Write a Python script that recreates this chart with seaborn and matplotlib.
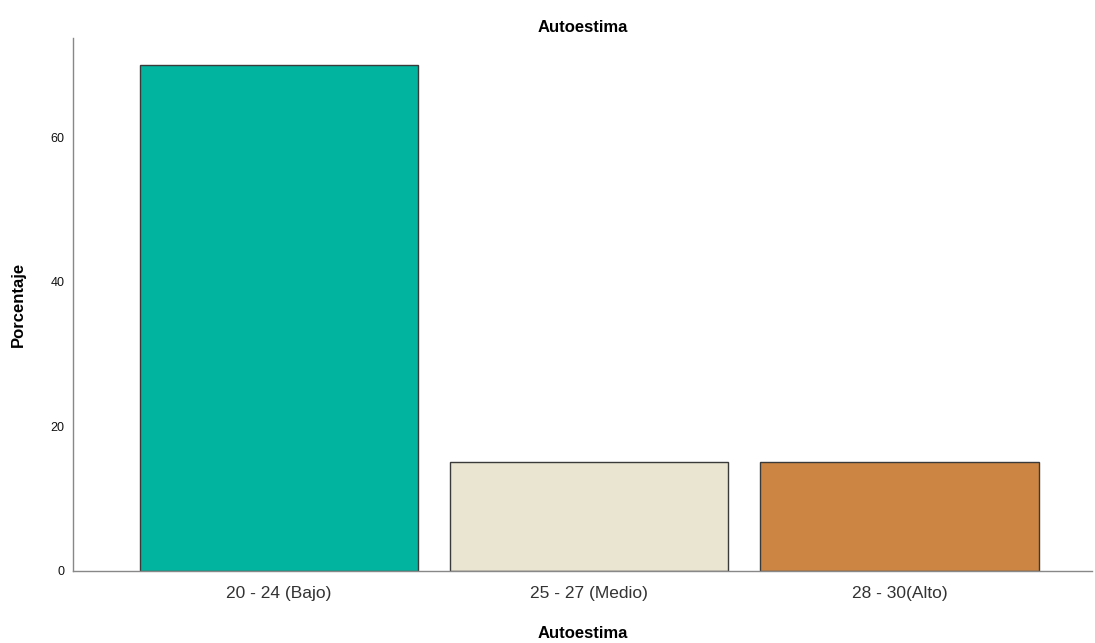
import matplotlib
matplotlib.use("Agg")
import matplotlib.pyplot as plt
import pandas as pd
import seaborn as sns

# Data
categories = ["20 - 24 (Bajo)", "25 - 27 (Medio)", "28 - 30(Alto)"]
porcentaje = [70, 15, 15]
colors = ["#00B4A0", "#EAE5D1", "#CC8542"]

df = pd.DataFrame({"Autoestima": categories, "Porcentaje": porcentaje})

sns.set_style("white")
plt.rcParams["font.family"] = ["Liberation Sans", "DejaVu Sans"]

fig = plt.figure(figsize=(10.95, 6.43), dpi=100)
ax = fig.add_axes([0.0667, 0.112, 0.931, 0.829])

sns.barplot(
    data=df,
    x="Autoestima",
    y="Porcentaje",
    hue="Autoestima",
    palette=colors,
    saturation=1,
    width=0.897,
    edgecolor="#3a3a3a",
    linewidth=1.0,
    legend=False,
    ax=ax,
)

ax.set_xlim(-0.664, 2.622)
ax.set_ylim(0, 73.7)
ax.set_yticks([0, 20, 40, 60])
ax.tick_params(axis="y", labelsize=9, length=0, pad=6, colors="#111111")
ax.tick_params(axis="x", labelsize=12.5, length=0, pad=11, colors="#333333")

ax.set_title("Autoestima", fontsize=12, fontweight="bold", pad=4, color="black")
ax.set_xlabel("Autoestima", fontsize=12, fontweight="bold", labelpad=18, color="black")
ax.set_ylabel("Porcentaje", fontsize=12, fontweight="bold", labelpad=18, color="black")

for side in ["top", "right"]:
    ax.spines[side].set_visible(False)
for side in ["left", "bottom"]:
    ax.spines[side].set_color("#888888")
    ax.spines[side].set_linewidth(1.0)

fig.savefig("out.png", dpi=100)
